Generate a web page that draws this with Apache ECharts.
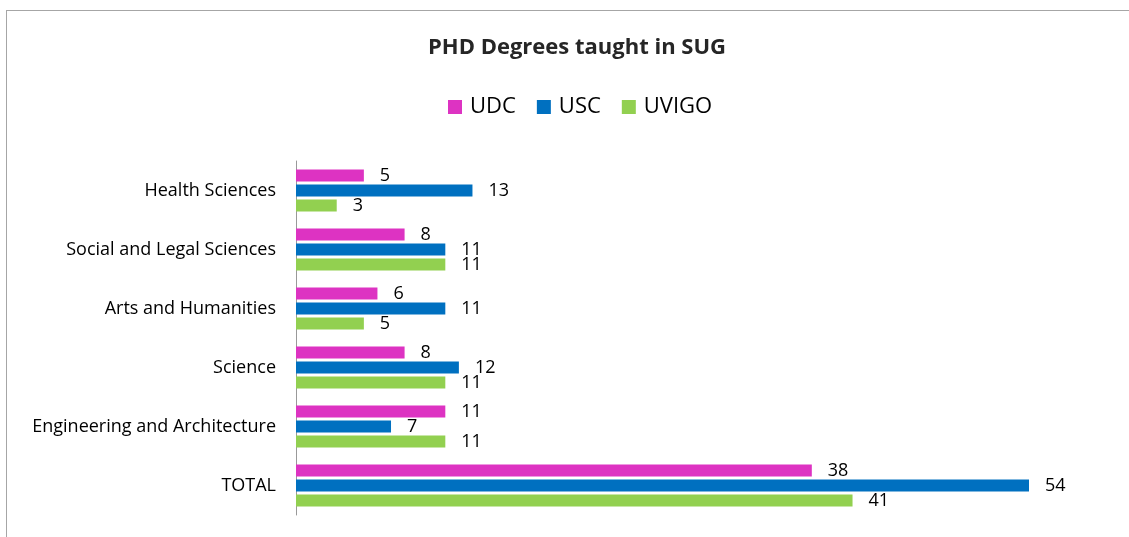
<!DOCTYPE html>
<html>
<head>
<meta charset="utf-8">
<script src="https://cdn.jsdelivr.net/npm/echarts@6/dist/echarts.min.js"></script>
<style>
  html, body { margin: 0; padding: 0; background: #fff; }
  #frame { position: absolute; left: 6px; top: 10px; width: 1200px; height: 600px; border-left: 1px solid #a6a6a6; border-top: 1px solid #a6a6a6; }
  #chart { position: absolute; left: 0; top: 0; width: 1129px; height: 537px; }
</style>
</head>
<body>
<div id="frame"></div>
<div id="chart"></div>
<script>
// categories listed top to bottom
var categories = ['Health Sciences', 'Social and Legal Sciences', 'Arts and Humanities', 'Science', 'Engineering and Architecture', 'TOTAL']
var udc = [5, 8, 6, 8, 11, 38]
var usc = [13, 11, 11, 12, 7, 54]
var uvigo = [3, 11, 5, 11, 11, 41]

var font = '"Open Sans", sans-serif'

var chart = echarts.init(document.getElementById('chart'))

// y category axis is drawn bottom-up, so reverse to keep Health Sciences on top
function rev(a) { return a.slice().reverse() }

var labelStyle = {
  show: true,
  position: 'right',
  distance: 16,
  color: '#000',
  fontSize: 18,
  fontFamily: font
}

var option = {
  animation: false,
  title: {
    text: 'PHD Degrees taught in SUG',
    left: 423,
    top: 32,
    textStyle: { fontSize: 22, fontWeight: 'bold', color: '#262626', fontFamily: font }
  },
  legend: {
    top: 91,
    left: 443,
    itemWidth: 14,
    itemHeight: 14,
    itemGap: 21,
    icon: 'rect',
    textStyle: { fontSize: 22, color: '#000', fontFamily: font, padding: [0, 0, 0, 3] },
    data: ['UDC', 'USC', 'UVIGO']
  },
  grid: { left: 296, right: 100, top: 161, bottom: 22 },
  xAxis: {
    type: 'value',
    min: 0,
    max: 54,
    show: false
  },
  yAxis: {
    type: 'category',
    data: rev(categories),
    axisLine: { show: true, lineStyle: { color: '#999', width: 1 } },
    axisTick: { show: false },
    axisLabel: { color: '#000', fontSize: 18, fontFamily: font, margin: 20 }
  },
  series: [
    {
      name: 'UDC', type: 'bar', data: rev(udc),
      itemStyle: { color: '#DD33C2' },
      barWidth: 12, barGap: '25%', barCategoryGap: '29%',
      label: labelStyle
    },
    {
      name: 'USC', type: 'bar', data: rev(usc),
      itemStyle: { color: '#0070C0' },
      barWidth: 12, barGap: '25%',
      label: labelStyle
    },
    {
      name: 'UVIGO', type: 'bar', data: rev(uvigo),
      itemStyle: { color: '#92D050' },
      barWidth: 12, barGap: '25%',
      label: labelStyle
    }
  ]
}

chart.setOption(option)
</script>
</body>
</html>
